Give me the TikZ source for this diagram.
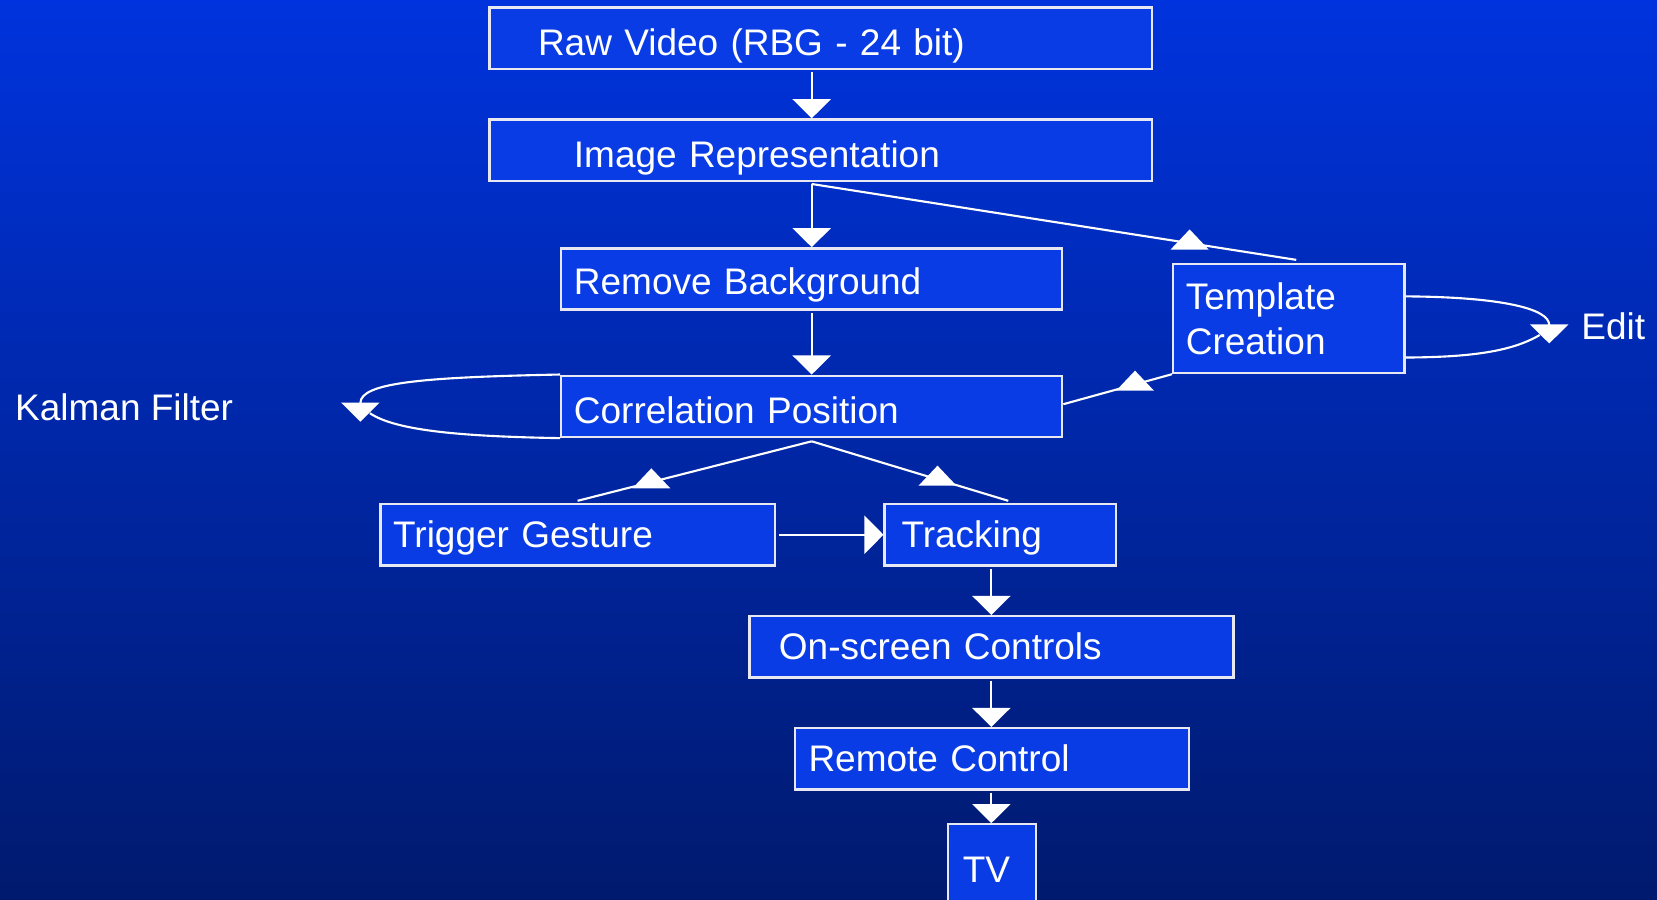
\documentclass[tikz,border=0pt]{standalone}
\usepackage{fontspec}
\setmainfont{Liberation Sans}
\usetikzlibrary{arrows.meta,calc}
\definecolor{bgtop}{HTML}{0033DD}
\definecolor{bgbot}{HTML}{001A6E}
\definecolor{boxfill}{HTML}{0A3CE6}
\definecolor{boxline}{HTML}{E8E8F2}
\newcommand\uptri[1]{\fill[white] ([shift={(0,-13)}]#1) -- ([shift={(-18,6)}]#1) -- ([shift={(18,6)}]#1) -- cycle;}
\begin{document}
\begin{tikzpicture}[x=0.5pt,y=-0.5pt,
  font=\fontsize{17.5pt}{21pt}\selectfont,
  boxnode/.style={draw=boxline, fill=boxfill, text=white, line width=1.1pt,
    inner ysep=0pt, minimum height=29pt, anchor=west, align=left},
  oneline/.style={text height=16.5pt, text depth=0pt},
  centred/.style={text height=12.5pt, text depth=0pt},
  conn/.style={draw=white, line width=1pt},
  tip/.style={-{Triangle[width=18pt,length=9pt]}},
  lbl/.style={text=white, anchor=west, inner sep=0pt}]
\useasboundingbox (0,0) rectangle (1568,851);
\clip (0,0) rectangle (1568,851);
\shade[top color=bgtop, bottom color=bgbot] (0,0) rectangle (1568,851);

\node[boxnode, oneline, text width=267.5pt, inner xsep=23pt] (raw) at (462,36) {Raw Video (RBG - 24 bit)};
\node[boxnode, oneline, text width=233.5pt, inner xsep=40pt] (img) at (462,142) {Image Representation};
\node[boxnode, text height=15pt, text depth=0pt, text width=225pt, inner xsep=6pt] (rb) at (530,264) {Remove Background};
\node[boxnode, text width=97.5pt, inner xsep=6pt, minimum height=51.5pt] (tc) at (1109,301.5) {Template\\Creation};
\node[boxnode, oneline, text width=225pt, inner xsep=6pt] (cp) at (530,384.5) {Correlation Position};
\node[boxnode, centred, text width=174.5pt, inner xsep=6pt] (tg) at (359,506) {Trigger Gesture};
\node[boxnode, centred, text width=93.5pt, inner xsep=8pt] (tr) at (836,506) {Tracking};
\node[boxnode, centred, text width=201pt, inner xsep=14pt] (os) at (708,612) {On-screen Controls};
\node[boxnode, centred, text width=173.5pt, inner xsep=6.5pt] (rc) at (751,718) {Remote Control};
\node[boxnode, oneline, text width=27.5pt, inner xsep=7pt, minimum height=39pt] (tv) at (896,819) {TV};

\node[lbl] (kal) at (14,385) {Kalman Filter};
\node[lbl] (edit) at (1496,309) {Edit};

% straight arrows
\draw[conn, tip] ([yshift=-1pt]raw.south -| rb.north) -- (img.north -| rb.north);
\draw[conn, tip] ([yshift=-1pt]img.south -| rb.north) -- (rb.north);
\draw[conn, tip] ([yshift=-1pt]rb.south) -- (cp.north);
\draw[conn, tip] ([xshift=1.5pt]tg.east) -- (tr.west);
\draw[conn, tip] ([yshift=-1pt]tr.south -| os.north) -- (os.north);
\draw[conn, tip] ([yshift=-1pt]os.south) -- (rc.north -| os.north);
\draw[conn, tip] ([yshift=-1pt]rc.south -| os.north) -- (tv.north -| os.north);

% diagonal connectors with mid triangles
\draw[conn] ([yshift=-1pt]img.south -| rb.north) -- coordinate[pos=0.78] (t1) ([xshift=3.5pt,yshift=1.5pt]tc.north);
\uptri{t1}
\draw[conn] (tc.south west) -- coordinate[pos=0.34] (t2) ([yshift=1pt]cp.east);
\uptri{t2}
\draw[conn] ([yshift=-1.5pt]cp.south) -- coordinate[pos=0.685] (t3) ([yshift=1pt]tg.north);
\uptri{t3}
\draw[conn] ([yshift=-1.5pt]cp.south) -- coordinate[pos=0.64] (t4) ([xshift=3.75pt,yshift=1pt]tr.north);
\uptri{t4}

% Kalman loop
\coordinate (kfa) at (341,399);
\coordinate (kfb) at (350,391);
\draw[conn, tip] (cp.north west) .. controls (400,357) and (341,362) .. (kfa);
\draw[conn] (kfb) .. controls (375,408) and (440,413) .. (cp.south west);

% Edit loop
\coordinate (eda) at (1466,325);
\coordinate (edb) at (1457,317);
\draw[conn, tip] ($(tc.north east)!0.3!(tc.south east)$) .. controls (1420,281) and (1466,292) .. (eda);
\draw[conn] (edb) .. controls (1430,333) and (1390,338) .. ($(tc.north east)!0.85!(tc.south east)$);
\end{tikzpicture}
\end{document}
